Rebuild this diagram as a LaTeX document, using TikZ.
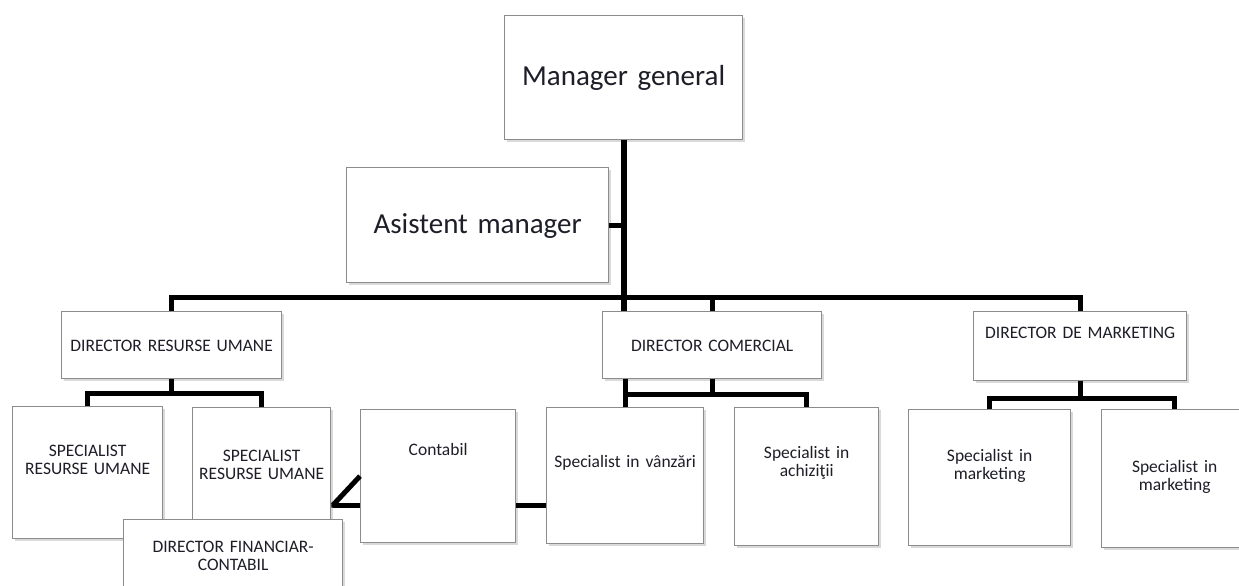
\documentclass[tikz,border=0pt]{standalone}
\usepackage{fontspec}
\setmainfont{Carlito}
\newfontfamily\boxfam[WordSpace=2.3]{Carlito}
\usetikzlibrary{calc,shadows}
\definecolor{cEdge}{HTML}{8C8C8C}
\definecolor{cText}{HTML}{1E1E28}
\newcommand\smalltxt{\boxfam\fontsize{17.5}{17.5}\selectfont}
\newcommand\bigtxt{\fontsize{29}{33}\selectfont}
\tikzset{
  box/.style={draw=cEdge, line width=1.3pt, fill=white, anchor=north west,
    inner sep=0pt, align=center, text=cText,
    drop shadow={opacity=0.3, shadow xshift=2pt, shadow yshift=-2pt}},
  small/.style={box, font=\smalltxt},
  big/.style={box, font=\bigtxt},
  link/.style={draw=black, line width=5pt},
}

\begin{document}
\begin{tikzpicture}[x=1pt, y=-1pt]
  \useasboundingbox (0,0) rectangle (1239,586);
  \clip (0,0) rectangle (1239,586);
  % management
  \node[big, text width=238pt, text height=70pt, text depth=54pt] (mg) at (504,15) {Manager general};
  \node[big, text width=262pt, text height=66pt, text depth=49pt] (am) at (346,167) {Asistent manager};
  % directors
  \node[small, text width=220pt, text height=39.5pt, text depth=27.5pt] (dru) at (61,311) {DIRECTOR RESURSE UMANE};
  \node[small, text width=219pt, text height=39.5pt, text depth=27.5pt] (dc) at (602,311) {DIRECTOR COMERCIAL};
  \node[small, text width=213pt, text height=27pt, text depth=42pt] (ddm) at (973,311) {DIRECTOR DE MARKETING};
  % specialists
  \node[small, text width=150pt, text height=50pt, text depth=82pt] (sru1) at (12,406) {SPECIALIST\\RESURSE UMANE};
  \node[small, text width=138pt, text height=54pt, text depth=79pt] (sru2) at (192,407) {SPECIALIST\\RESURSE UMANE};
  \node[small, text width=219pt, text height=33pt, text depth=90pt] (dfc) at (123,519) {DIRECTOR FINANCIAR-\\CONTABIL};
  \node[small, text width=155pt, text height=46pt, text depth=87pt] (con) at (360,409) {Contabil};
  \node[small, text width=157pt, text height=60pt, text depth=76pt] (sv) at (546,407) {Specialist in vânzări};
  \node[small, text width=144pt, text height=51pt, text depth=87pt] (sa) at (734,407) {Specialist in\\achiziţii};
  \node[small, text width=162pt, text height=52pt, text depth=84pt] (sm1) at (908,409) {Specialist in\\marketing};
  \node[small, text width=146pt, text height=63pt, text depth=75pt] (sm2) at (1101,409) {Specialist in\\marketing};

  % bus levels
  \coordinate (busTop) at (0,297);
  \coordinate (busHR) at (0,393);
  \coordinate (busCom) at (0,394);
  \coordinate (busMkt) at (0,398);
  \coordinate (fin) at (333,505);

  % top lines
  \draw[link, line width=6pt] (mg.south) -- (mg.south |- dc.north);
  \draw[link] (am.east) -- (am.east -| mg.south);
  \draw[link] (dru.north) -- (dru.north |- busTop) -- (ddm.north |- busTop) -- (ddm.north);
  \draw[link] (dc.north) -- (dc.north |- busTop);
  % hr
  \draw[link] (dru.south) -- (dru.south |- busHR);
  \draw[link] (sru1.north) -- (sru1.north |- busHR) -- (sru2.north |- busHR) -- (sru2.north);
  % commercial
  \draw[link] (sv.north) -- (sv.north |- dc.south);
  \draw[link] (dc.south) -- (dc.south |- busCom);
  \draw[link] (sv.north |- busCom) -- (sa.north |- busCom) -- (sa.north);
  % marketing
  \draw[link] (ddm.south) -- (ddm.south |- busMkt);
  \draw[link] (sm1.north) -- (sm1.north |- busMkt) -- (sm2.north |- busMkt) -- (sm2.north);
  % accounting
  \draw[link] (con.west) -- (fin) -- (sru2.east |- fin);
  \draw[link] (fin) -- (con.west |- fin);
  \draw[link] (con.east |- fin) -- (sv.west |- fin);
\end{tikzpicture}
\end{document}
